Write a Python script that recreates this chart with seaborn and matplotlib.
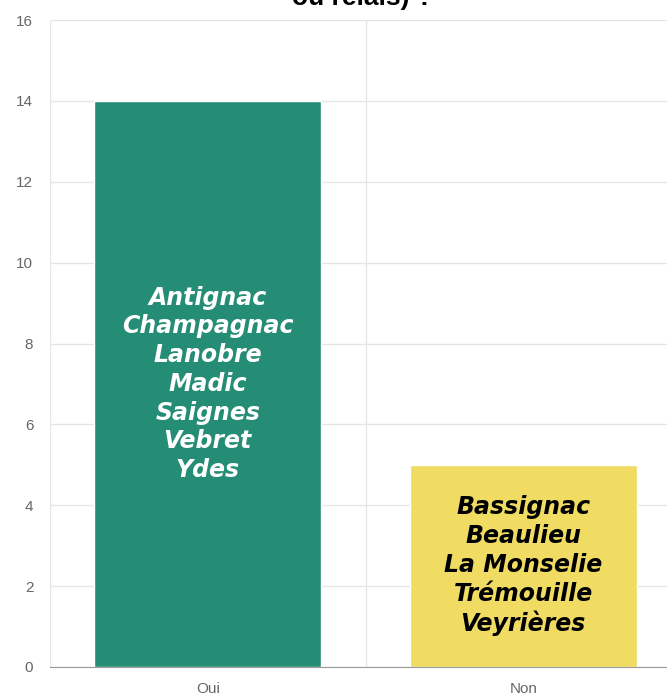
import numpy as np
import pandas as pd
import seaborn as sns
import matplotlib.pyplot as plt
from matplotlib.ticker import FixedLocator

categories = ["Oui", "Non"]
counts = [14, 5]
communes = [
    ["Antignac", "Champagnac", "Lanobre", "Madic", "Saignes", "Vebret", "Ydes"],
    ["Bassignac", "Beaulieu", "La Monselie", "Trémouille", "Veyrières"],
]
bar_colors = ["#258d75", "#f0dc62"]
text_colors = ["white", "black"]
title_tail = "ou relais) ?"

df = pd.DataFrame({"reponse": categories, "nombre": counts})

sns.set_style("white")
plt.rcParams["font.family"] = ["Liberation Sans", "DejaVu Sans"]

fig = plt.figure(figsize=(6.67, 6.97), dpi=100)
ax = fig.add_axes([50 / 667, 30 / 697, 631 / 667, 647 / 697])

sns.barplot(data=df, x="reponse", y="nombre", hue="reponse", palette=bar_colors,
            width=0.72, saturation=1, legend=False, ax=ax, zorder=3)

ax.set_xlim(-0.5, 1.5)
ax.set_ylim(0, 16)
ax.set_yticks(np.arange(0, 17, 2))
ax.set_xlabel("")
ax.set_ylabel("")

# grille + petits traits comme chart.js
ax.grid(axis="y", color="#e6e6e6", linewidth=1, zorder=0)
ax.xaxis.set_minor_locator(FixedLocator([-0.5, 0.5, 1.5]))
ax.grid(axis="x", which="minor", color="#e6e6e6", linewidth=1, zorder=0)
ax.tick_params(axis="y", length=11, width=1, color="#e6e6e6", labelcolor="#666666",
               labelsize=11, pad=1)
ax.tick_params(axis="x", which="major", length=0, labelcolor="#666666", labelsize=11, pad=11)
ax.tick_params(axis="x", which="minor", length=12, width=1, color="#e6e6e6")

for s in ["top", "right", "left"]:
    ax.spines[s].set_visible(False)
ax.spines["bottom"].set_color("#9a9a9a")
ax.spines["bottom"].set_zorder(4)

for i, (names, n) in enumerate(zip(communes, counts)):
    ax.text(i, n / 2, "\n".join(names), ha="center", va="center",
            fontsize=17, fontweight="bold", fontstyle="italic",
            family=["DejaVu Sans"], color=text_colors[i],
            linespacing=1.25, zorder=5)

fig.text(362 / 667, 1 - 5 / 697, title_tail, ha="center", va="baseline",
         fontsize=19, fontweight="bold", color="black")

fig.savefig("out.png", dpi=100)
